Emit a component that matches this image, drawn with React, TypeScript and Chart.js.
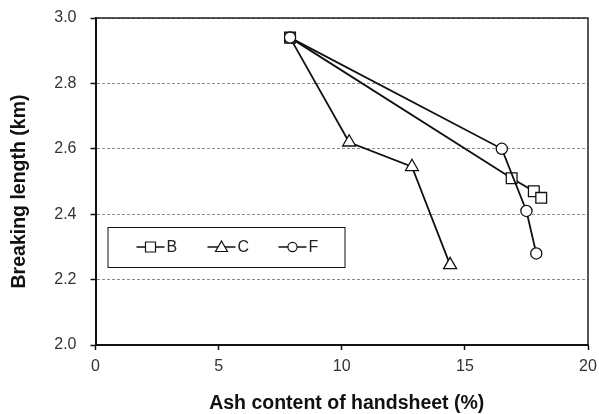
import React, { useEffect, useRef } from "react";
import { Chart, registerables } from "chart.js";

Chart.register(...registerables);

const seriesNames = ["B", "C", "F"];
const xB = [7.9, 16.9, 17.8, 18.1];
const yB = [2.94, 2.51, 2.47, 2.45];
const xC = [7.9, 10.3, 12.85, 14.4];
const yC = [2.94, 2.62, 2.545, 2.245];
const xF = [7.9, 16.5, 17.5, 17.9];
const yF = [2.94, 2.6, 2.41, 2.28];

const xTitle = "Ash content of handsheet (%)";
const yTitle = "Breaking length (km)";

const FONT = "'Liberation Sans', Arial, sans-serif";

function pts(xs: number[], ys: number[]) {
  return xs.map((x, i) => ({ x, y: ys[i] }));
}

const framePlugin = {
  id: "frame",
  beforeDatasetsDraw(chart: any) {
    const { ctx, chartArea: a } = chart;
    ctx.save();
    ctx.strokeStyle = "#222";
    ctx.lineWidth = 1.5;
    ctx.beginPath();
    ctx.moveTo(a.left, a.top);
    ctx.lineTo(a.right, a.top);
    ctx.lineTo(a.right, a.bottom);
    ctx.stroke();
    ctx.restore();
  },
};

const titlesPlugin = {
  id: "axisTitles",
  afterDraw(chart: any) {
    const { ctx, chartArea: a } = chart;
    ctx.save();
    ctx.fillStyle = "#111";
    ctx.font = `bold 19.5px ${FONT}`;
    ctx.textAlign = "center";
    ctx.textBaseline = "middle";
    ctx.fillText(xTitle, (a.left + a.right) / 2 + 5, 404);
    ctx.translate(20, (a.top + a.bottom) / 2 + 10);
    ctx.rotate(-Math.PI / 2);
    ctx.fillText(yTitle, 0, 0);
    ctx.restore();
  },
};

const legendPlugin = {
  id: "boxLegend",
  afterDatasetsDraw(chart: any) {
    const { ctx, chartArea: a } = chart;
    const bx = a.left + 12;
    const by = a.top + 209;
    const bw = 237;
    const bh = 40;
    ctx.save();
    ctx.fillStyle = "#fff";
    ctx.fillRect(bx, by, bw, bh);
    ctx.strokeStyle = "#111";
    ctx.lineWidth = 1;
    ctx.strokeRect(bx + 0.5, by + 0.5, bw, bh);
    const cy = by + 20;
    const starts = [bx + 29, bx + 100, bx + 171];
    seriesNames.forEach((name, i) => {
      const x0 = starts[i];
      const cx = x0 + 14;
      ctx.strokeStyle = "#111";
      ctx.lineWidth = 1.5;
      ctx.beginPath();
      ctx.moveTo(x0, cy);
      ctx.lineTo(x0 + 28, cy);
      ctx.stroke();
      ctx.fillStyle = "#fff";
      ctx.lineWidth = 1.2;
      ctx.beginPath();
      if (i === 0) {
        ctx.rect(cx - 5, cy - 5, 10, 10);
      } else if (i === 1) {
        ctx.moveTo(cx, cy - 6);
        ctx.lineTo(cx + 6, cy + 4.5);
        ctx.lineTo(cx - 6, cy + 4.5);
        ctx.closePath();
      } else {
        ctx.arc(cx, cy, 4.6, 0, Math.PI * 2);
      }
      ctx.fill();
      ctx.stroke();
      ctx.fillStyle = "#222";
      ctx.font = `16px ${FONT}`;
      ctx.textBaseline = "middle";
      ctx.textAlign = "left";
      ctx.fillText(name, x0 + 30, cy + 1);
    });
    ctx.restore();
  },
};

export default function App() {
  const ref = useRef<HTMLCanvasElement>(null);
  useEffect(() => {
    const common = {
      borderColor: "#111",
      borderWidth: 1.8,
      pointBackgroundColor: "#fff",
      pointBorderColor: "#111",
      pointBorderWidth: 1.3,
      showLine: true,
      fill: false,
      tension: 0,
    };
    const chart = new Chart(ref.current!, {
      type: "scatter",
      data: {
        datasets: [
          { ...common, label: seriesNames[0], data: pts(xB, yB), pointStyle: "rect", pointRadius: 7.6, order: 1 },
          {
            ...common,
            label: seriesNames[1],
            data: pts(xC, yC),
            pointStyle: "triangle",
            pointRadius: (c: any) => (c.dataIndex === 0 ? 0 : 7.5),
            order: 2,
          },
          { ...common, label: seriesNames[2], data: pts(xF, yF), pointStyle: "circle", pointRadius: 5.6, order: 0 },
        ],
      },
      options: {
        animation: false,
        responsive: false,
        maintainAspectRatio: false,
        layout: { autoPadding: false, padding: { left: 0, top: 18, right: 11, bottom: 0 } },
        plugins: { legend: { display: false }, tooltip: { enabled: false } },
        scales: {
          x: {
            type: "linear",
            min: 0,
            max: 20,
            ticks: { stepSize: 5, color: "#333", font: { family: FONT, size: 16 }, padding: 7 },
            grid: { drawOnChartArea: false, drawTicks: true, tickLength: 5, tickColor: "#111", tickWidth: 1.5 },
            border: { color: "#111", width: 2 },
            title: { display: false },
            afterFit: (s: any) => {
              s.height = 69;
              s.paddingLeft = 0;
              s.paddingRight = 0;
            },
          },
          y: {
            type: "linear",
            min: 2.0,
            max: 3.0,
            ticks: {
              stepSize: 0.2,
              color: "#333",
              font: { family: FONT, size: 16 },
              padding: 14,
              callback: (v: any) => Number(v).toFixed(1),
            },
            grid: {
              drawOnChartArea: true,
              color: "#8a8a8a",
              lineWidth: 1,
              drawTicks: true,
              tickLength: 5,
              tickColor: "#111",
              tickWidth: 1.5,
              tickBorderDash: [],
            } as any,
            border: { color: "#111", width: 2, dash: [3, 2] },
            title: { display: false },
            afterFit: (s: any) => {
              s.width = 95.5;
              s.paddingTop = 0;
              s.paddingBottom = 0;
            },
          },
        },
      } as any,
      plugins: [framePlugin, legendPlugin, titlesPlugin],
    });
    return () => chart.destroy();
  }, []);
  return (
    <div style={{ position: "fixed", left: 0, top: 0, width: 599, height: 414, background: "#fff" }}>
      <canvas ref={ref} width={599} height={414} style={{ width: 599, height: 414, display: "block" }} />
    </div>
  );
}
